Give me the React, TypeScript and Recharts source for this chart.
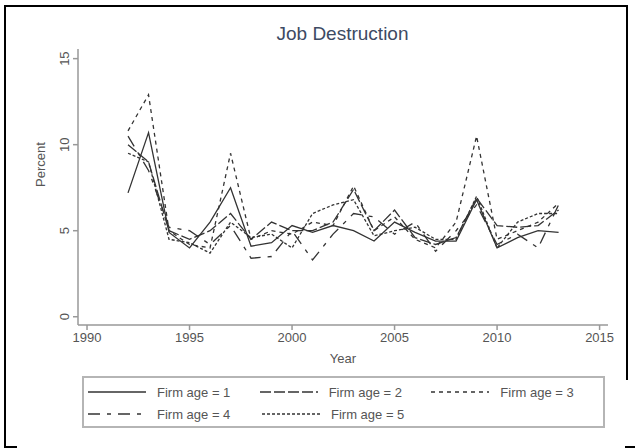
import React from "react";
import { LineChart, Line, XAxis, YAxis } from "recharts";

const years = [1992, 1993, 1994, 1995, 1996, 1997, 1998, 1999, 2000, 2001, 2002, 2003, 2004, 2005, 2006, 2007, 2008, 2009, 2010, 2011, 2012, 2013];
const age1 = [7.2, 10.7, 4.9, 4.0, 5.5, 7.5, 4.1, 4.3, 5.3, 4.9, 5.3, 5.0, 4.4, 5.5, 4.9, 4.4, 4.4, 6.8, 4.0, 4.6, 5.0, 4.9];
const age2 = [10.0, 9.0, 5.0, 4.5, 5.0, 6.0, 4.5, 5.5, 5.0, 5.0, 5.5, 7.4, 5.0, 6.2, 4.6, 4.2, 4.6, 6.9, 5.3, 5.2, 5.3, 6.2];
const age3 = [10.8, 12.9, 5.0, 4.2, 4.0, 9.5, 4.5, 5.0, 4.8, 5.5, 5.3, 7.6, 5.0, 5.8, 4.5, 4.0, 5.5, 10.5, 4.5, 5.0, 5.5, 6.6];
const age4 = [10.5, 8.5, 5.2, 5.0, 4.2, 5.3, 3.4, 3.5, 5.0, 3.3, 4.8, 6.0, 5.8, 4.8, 5.5, 3.8, 5.0, 6.5, 4.2, 4.8, 4.0, 6.5];
const age5 = [9.5, 9.0, 4.5, 4.3, 3.7, 5.5, 4.6, 4.8, 4.0, 6.0, 6.5, 6.8, 4.7, 5.0, 5.2, 4.5, 4.5, 7.0, 4.0, 5.5, 6.0, 6.0];

const xTicks = [1990, 1995, 2000, 2005, 2010, 2015];
const yTicks = [0, 5, 10, 15];

const series = [
  { key: "a1", name: "Firm age = 1", dash: undefined },
  { key: "a2", name: "Firm age = 2", dash: "11 3" },
  { key: "a3", name: "Firm age = 3", dash: "4 4" },
  { key: "a4", name: "Firm age = 4", dash: "12 7 4 7" },
  { key: "a5", name: "Firm age = 5", dash: "3 2" },
];

const data = years.map((y, i) => ({
  year: y,
  a1: age1[i],
  a2: age2[i],
  a3: age3[i],
  a4: age4[i],
  a5: age5[i],
}));

const FONT = "'Liberation Sans', Arial, sans-serif";

const YTick = (props: any) => {
  const { x, y, payload } = props;
  return (
    <text
      x={x}
      y={y}
      transform={`rotate(-90 ${x} ${y})`}
      textAnchor="middle"
      fontSize={13}
      fill="#555"
      fontFamily={FONT}
    >
      {payload.value}
    </text>
  );
};

const LegendBox = () => {
  const item = (s: any) => (
    <div key={s.key} style={{ display: "flex", alignItems: "center", width: 174 }}>
      <svg width={60} height={10} style={{ marginRight: 9 }}>
        <line x1={0} y1={5} x2={58} y2={5} stroke="#333" strokeWidth={1.4} strokeDasharray={s.dash} />
      </svg>
      <span style={{ fontSize: 13, color: "#555", fontFamily: FONT }}>{s.name}</span>
    </div>
  );
  return (
    <div
      style={{
        position: "absolute",
        left: 82,
        top: 376,
        width: 515,
        height: 45,
        border: "2px solid #b5b5b5",
        padding: "3px 0 0 4px",
        boxSizing: "content-box",
        background: "#fff",
      }}
    >
      <div style={{ display: "flex", height: 22 }}>{series.slice(0, 3).map(item)}</div>
      <div style={{ display: "flex", height: 22 }}>{series.slice(3).map(item)}</div>
    </div>
  );
};

export default function App() {
  return (
    <div style={{ position: "absolute", left: 0, top: 0, width: 635, height: 448, background: "#fff" }}>
      {/* scanned frame lines */}
      <div style={{ position: "absolute", left: 4, top: 5, width: 624, height: 2, background: "#000" }} />
      <div style={{ position: "absolute", left: 4, top: 5, width: 2, height: 443, background: "#000" }} />
      <div style={{ position: "absolute", left: 626, top: 5, width: 2, height: 375, background: "#000" }} />
      <div style={{ position: "absolute", left: 4, top: 446, width: 13, height: 2, background: "#000" }} />
      <div style={{ position: "absolute", left: 625, top: 446, width: 10, height: 2, background: "#000" }} />
      <div
        style={{
          position: "absolute",
          left: 0,
          width: 635,
          top: 23,
          textAlign: "center",
          paddingLeft: 50,
          boxSizing: "border-box",
          fontFamily: FONT,
          fontSize: 19,
          color: "#3d4a63",
        }}
      >
        Job Destruction
      </div>
      <LineChart
        width={635}
        height={448}
        data={data}
        margin={{ top: 49, right: 27, left: 0, bottom: 93 }}
        style={{ position: "absolute", left: 0, top: 0 }}
      >
        <XAxis
          dataKey="year"
          type="number"
          domain={[1989.56, 2015.41]}
          ticks={xTicks}
          allowDataOverflow
          height={30}
          stroke="#999"
          strokeWidth={1.5}
          tickSize={5}
          tickMargin={3}
          tick={{ fontSize: 13, fill: "#555", fontFamily: FONT }}
          label={{ value: "Year", position: "insideBottom", offset: -8, fontSize: 13, fill: "#555", fontFamily: FONT }}
        />
        <YAxis
          type="number"
          domain={[-0.48, 15.56]}
          ticks={yTicks}
          allowDataOverflow
          stroke="#999"
          strokeWidth={1.5}
          tickSize={5}
          width={78}
          tick={<YTick />}
          tickMargin={4}
          label={{ value: "Percent", angle: -90, position: "insideLeft", offset: 40, fontSize: 13, fill: "#555", fontFamily: FONT }}
        />
        {series.map((s) => (
          <Line
            key={s.key}
            type="linear"
            dataKey={s.key}
            name={s.name}
            stroke="#333"
            strokeWidth={1.3}
            strokeDasharray={s.dash}
            dot={false}
            isAnimationActive={false}
          />
        ))}
      </LineChart>
      <LegendBox />
    </div>
  );
}
